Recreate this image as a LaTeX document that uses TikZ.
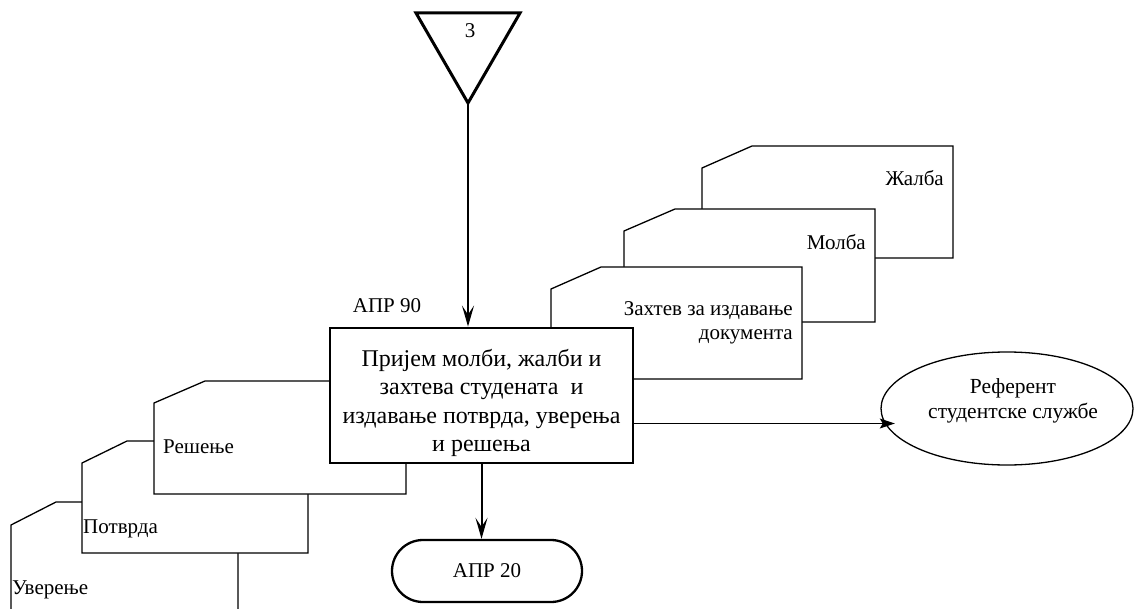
\documentclass[tikz,border=0pt]{standalone}
\usepackage{fontspec}
\setmainfont{Liberation Serif}
\usetikzlibrary{arrows.meta,shapes.geometric}
\tikzset{
  docshape/.style={draw, line width=1.3pt, fill=white, line join=miter},
  lbl/.style={font=\fontsize{21}{24}\selectfont, inner sep=0pt},
  mainbox/.style={draw, line width=2.8pt, fill=white, minimum width=303pt, minimum height=135pt,
    inner sep=0pt},
  maintext/.style={align=center, inner sep=0pt, font=\fontsize{24}{28.5}\selectfont},
  termbox/.style={draw, line width=2.3pt, fill=white, rounded corners=31pt, minimum width=190pt,
    minimum height=62pt, inner sep=0pt, font=\fontsize{21}{24}\selectfont},
  ellbox/.style={draw, ellipse, line width=1.3pt, minimum width=252pt, minimum height=113pt,
    inner sep=0pt},
  elltext/.style={align=center, inner sep=0pt, font=\fontsize{21.5}{25}\selectfont},
  thickarrow/.style={line width=2pt, -{Stealth[length=21pt,width=12pt,inset=9pt]}},
  thinarrow/.style={line width=1.2pt, -{Stealth[length=15pt,width=10pt,inset=3pt]}},
}
\begin{document}
\begin{tikzpicture}[x=1pt,y=-1pt]
\useasboundingbox (0,0) rectangle (1134,609);
% inverted triangle (off-page connector)
\draw[line width=3pt, line join=miter] (416,13) -- (520,13) -- (468,103) -- cycle;
\coordinate (apex) at (468,103);
\node[lbl] (three) at (470,31) {3};
% documents on the right (back to front)
\draw[docshape] (702,168) -- (752,146) -- (953,146) -- (953,258) -- (702,258) -- cycle;
\node[lbl, anchor=base east] (zalba) at (944,186) {Жалба};
\draw[docshape] (624,231) -- (675,209) -- (875,209) -- (875,322) -- (624,322) -- cycle;
\node[lbl, anchor=base east] (molba) at (866,250) {Молба};
\draw[docshape] (551,289) -- (601,267) -- (802,267) -- (802,379) -- (551,379) -- cycle;
\node[lbl, anchor=north east, align=right] (zahtev) at (793,301) {Захтев за издавање\\документа};
% documents on the left (back to front)
\draw[docshape] (11,525) -- (56,502) -- (238,502) -- (238,640) -- (11,640) -- cycle;
\node[lbl, anchor=base west] (uverenje) at (12,594) {Уверење};
\draw[docshape] (82,463) -- (127,441) -- (308,441) -- (308,553) -- (82,553) -- cycle;
\node[lbl, anchor=base west] (potvrda) at (83,533) {Потврда};
\draw[docshape] (154,403) -- (205,381) -- (406,381) -- (406,494) -- (154,494) -- cycle;
\node[lbl, anchor=base west] (resenje) at (163,453) {Решење};
% main process box
\node[mainbox] (proc) at (481.5,395.5) {};
\node[maintext] (proctext) at (481.5,403) {Пријем молби, жалби и\\захтева студената \ и\\издавање потврда, уверења\\и решења};
\node[lbl] (apr90) at (387,306) {АПР 90};
% terminal
\node[termbox] (term) at (487,571) {АПР 20};
% ellipse
\node[ellbox] (ell) at (1007,408.5) {};
\node[elltext] (elltxt) at (1013,401) {Референт\\студентске службе};
% connectors
\draw[thickarrow] (apex) -- (apex |- proc.north);
\draw[thickarrow] (proc.south) -- (proc.south |- term.north);
\draw[thinarrow, shorten >=-10pt] (proc.east |- ell.187) -- (ell.187);
\end{tikzpicture}
\end{document}
